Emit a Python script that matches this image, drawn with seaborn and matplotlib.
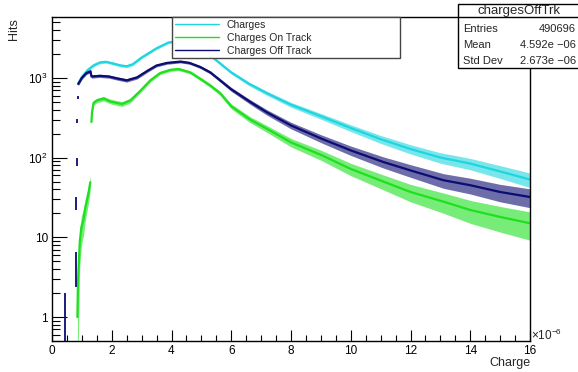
import numpy as np
import pandas as pd
import matplotlib
matplotlib.use('Agg')
import matplotlib.pyplot as plt
import seaborn as sns
from matplotlib.ticker import MultipleLocator, FixedLocator, FixedFormatter, LogLocator
from matplotlib.patches import Rectangle
from matplotlib.lines import Line2D

# charge in units of 1e-6, hits per bin
cyan_x = [0.87, 1.0, 1.2, 1.4, 1.6, 1.8, 2.0, 2.3, 2.5, 2.7, 3.0, 3.5, 3.9, 4.3, 4.8,
          5.4, 6.0, 6.6, 7.2, 8.0, 9.0, 10.0, 11.0, 12.0, 13.0, 14.0, 15.0, 16.0]
cyan_y = [840, 1030, 1260, 1440, 1560, 1590, 1530, 1430, 1400, 1480, 1800, 2350, 2780, 2900, 2650,
          1780, 1170, 840, 640, 460, 330, 235, 170, 128, 100, 84, 67, 53]

green_low_x = [0.85, 0.87, 0.93, 0.98, 1.06, 1.11, 1.17, 1.23, 1.28]
green_low_y = [1.0, 2.8, 8.8, 13, 17, 23, 29, 37, 49]
green_x = [1.32, 1.34, 1.39, 1.5, 1.73, 1.95, 2.17, 2.34, 2.62, 2.96, 3.29, 3.62, 3.96, 4.24, 4.63,
           4.96, 5.3, 5.63, 6.0, 6.63, 7.19, 8.0, 9.03, 10.0, 11.09, 12.0, 13.1, 14.0, 15.0, 16.0]
green_y = [280, 370, 485, 520, 550, 506, 485, 470, 520, 690, 930, 1150, 1260, 1290, 1170,
           975, 800, 640, 440, 300, 230, 155, 107, 72, 50, 37, 28, 22, 18, 15]

navy_edge_x = [0.43, 0.80, 0.816, 0.832, 0.848, 0.864]
navy_edge_y = [1, 4.5, 27, 88, 285, 560]
navy_x = [0.88, 1.0, 1.15, 1.29, 1.32, 1.6, 1.9, 2.2, 2.5, 2.85, 3.2, 3.5, 3.85, 4.3, 4.6,
          4.96, 5.3, 5.63, 6.0, 6.63, 7.19, 8.0, 9.03, 10.0, 11.09, 12.0, 13.1, 14.0, 15.0, 16.0]
navy_y = [840, 1000, 1150, 1210, 1040, 1060, 1040, 980, 930, 1015, 1230, 1430, 1540, 1600, 1540,
          1370, 1170, 930, 718, 500, 370, 253, 172, 123, 88, 69, 52, 45, 37, 32]

labels = ['Charges', 'Charges On Track', 'Charges Off Track']
colors = ['#1fd6df', '#1ee01e', '#0c0c72']

sns.set_style('ticks')
plt.rcParams['font.family'] = ['Liberation Sans', 'DejaVu Sans']
plt.rcParams['mathtext.default'] = 'regular'

fig = plt.figure(figsize=(5.78, 3.72), dpi=100)
ax = fig.add_axes([52/578, 1-341/372, 478/578, 324/372])


def draw(x, y, color):
    x = np.asarray(x, float)
    y = np.asarray(y, float)
    err = 1.5*np.sqrt(y)
    ax.fill_between(x, np.clip(y-err, 0.3, None), y+err, color=color, lw=0, alpha=0.6)
    df = pd.DataFrame({'charge': x, 'hits': y})
    sns.lineplot(data=df, x='charge', y='hits', color=color, lw=1.6, estimator=None, ax=ax)


draw(cyan_x, cyan_y, colors[0])
draw(green_low_x, green_low_y, colors[1])
draw(green_x, green_y, colors[1])
draw(navy_x, navy_y, colors[2])
ey = np.asarray(navy_edge_y, float)
lo = np.minimum(np.sqrt(ey), ey - 0.05)
ax.errorbar(navy_edge_x, ey, yerr=[lo, np.sqrt(ey)], fmt='none', ecolor=colors[2], elinewidth=1.3)

ax.set_yscale('log')
ax.set_xlim(0, 16)
ax.set_ylim(0.5, 5800)
ax.set_xlabel('')
ax.set_ylabel('')
ax.xaxis.set_major_locator(MultipleLocator(2))
ax.xaxis.set_minor_locator(MultipleLocator(0.5))
ax.yaxis.set_major_locator(FixedLocator([1, 10, 100, 1000]))
ax.yaxis.set_major_formatter(FixedFormatter(['1', '10', '$10^{2}$', '$10^{3}$']))
ax.yaxis.set_minor_locator(LogLocator(base=10, subs=np.arange(2, 10)))
ax.yaxis.set_minor_formatter(plt.NullFormatter())
ax.tick_params(which='both', direction='in', top=False, right=False, colors='black', labelsize=8.5, width=0.8)
ax.tick_params(axis='y', which='major', length=11, pad=3)
ax.tick_params(axis='y', which='minor', length=5.5)
ax.tick_params(axis='x', which='major', length=8, pad=3)
ax.tick_params(axis='x', which='minor', length=4)
for s in ax.spines.values():
    s.set_color('black')
    s.set_linewidth(1)

fig.text(14/578, 1-18/372, 'Hits', rotation=90, ha='center', va='top', fontsize=9)
fig.text(530/578, 1-363/372, 'Charge', ha='right', va='center', fontsize=9)
fig.text(531/578, 1-335/372, r'$\times10^{-6}$', ha='left', va='center', fontsize=8.5)

handles = [Line2D([], [], color=c, lw=1) for c in colors]
fig.legend(handles, labels, loc='upper left', bbox_to_anchor=(172/578, 1-17/372, 228/578, 0), mode='expand',
           borderaxespad=0, fontsize=7.5, handlelength=4.3, handletextpad=0.7, labelspacing=0.3,
           borderpad=0.25, fancybox=False, framealpha=1, edgecolor='#444444', facecolor='white')

# stats box
fig.add_artist(Rectangle((458/578, 1-68/372), 125/578, 64/372, transform=fig.transFigure,
                         facecolor='white', edgecolor='black', lw=1))
fig.add_artist(Line2D([458/578, 1], [1-17/372]*2, transform=fig.transFigure, color='black', lw=1))
fig.text(519/578, 1-11/372, 'chargesOffTrk', ha='center', va='center', fontsize=9.5)
rows = [('Entries', '490696'), ('Mean', '4.592e \u221206'), ('Std Dev', '2.673e \u221206')]
for i, (k, v) in enumerate(rows):
    yy = 1 - (29.5 + 15.5*i)/372
    fig.text(463/578, yy, k, ha='left', va='center', fontsize=8)
    fig.text(576/578, yy, v, ha='right', va='center', fontsize=8)

fig.savefig('out.png', dpi=100)
